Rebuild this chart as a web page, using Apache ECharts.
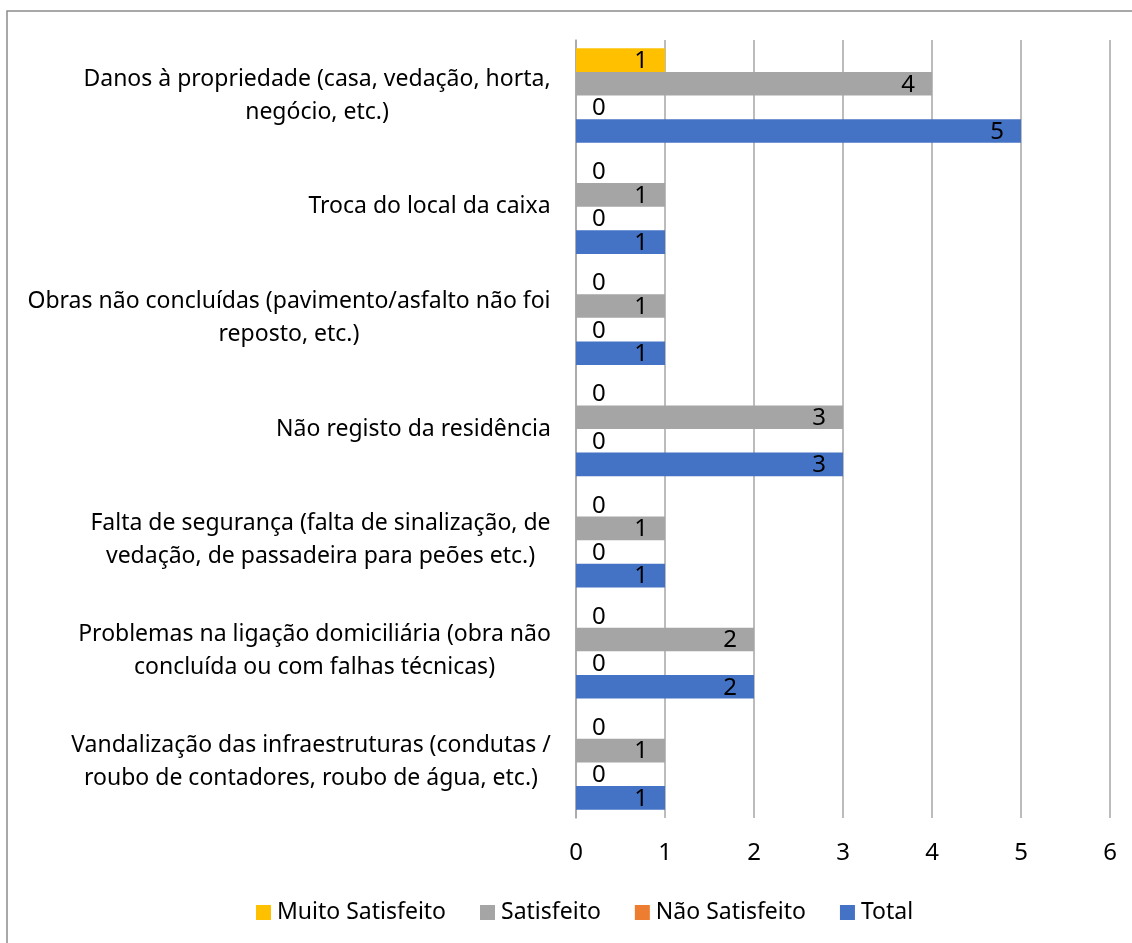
<!DOCTYPE html>
<html>
<head>
<meta charset="utf-8">
<script src="https://cdn.jsdelivr.net/npm/echarts@6/dist/echarts.min.js"></script>
<style>
  html, body { margin: 0; padding: 0; background: #fff; }
  #main { width: 1132px; height: 943px; }
</style>
</head>
<body>
<div id="main"></div>
<script>
const categories = [
    'Danos à propriedade (casa, vedação, horta,\nnegócio, etc.)',
    'Troca do local da caixa',
    'Obras não concluídas (pavimento/asfalto não foi\nreposto, etc.)',
    'Não registo da residência',
    'Falta de segurança (falta de sinalização, de\nvedação, de passadeira para peões etc.)',
    'Problemas na ligação domiciliária (obra não\nconcluída ou com falhas técnicas)',
    'Vandalização das infraestruturas (condutas /\nroubo de contadores, roubo de água, etc.)'
];
const muitoSatisfeito = [1, 0, 0, 0, 0, 0, 0];
const satisfeito = [4, 1, 1, 3, 1, 2, 1];
const naoSatisfeito = [0, 0, 0, 0, 0, 0, 0];
const total = [5, 1, 1, 3, 1, 2, 1];
const xTicks = [0, 1, 2, 3, 4, 5, 6];

const FONT = '"Noto Sans", sans-serif';
const FS = 23;
const NUM_FS = 24;

// measure the longest line of each category so the lines can be centred in the block
const ctx = document.createElement('canvas').getContext('2d');
ctx.font = FS + 'px "Noto Sans"';
const rich = {};
categories.forEach((c, i) => {
    const w = Math.max(...c.split('\n').map(s => ctx.measureText(s).width));
    rich['c' + i] = { width: Math.ceil(w), align: 'center', fontSize: FS, fontFamily: FONT, color: '#000', lineHeight: 33 };
});

function seriesData(arr) {
    return arr.map(v => v === 0
        ? { value: v, label: { position: 'right', distance: 16 } }
        : { value: v });
}

const myChart = echarts.init(document.getElementById('main'), null, { renderer: 'canvas' });
let option;
myChart.setOption(
    (option = {
        animation: false,
        color: ['#FFC000', '#A5A5A5', '#ED7D31', '#4472C4'],
        graphic: [{
            type: 'rect',
            shape: { x: 7, y: 11, width: 1200, height: 1000 },
            style: { fill: 'none', stroke: '#8c8c8c', lineWidth: 1.5 },
            silent: true
        }],
        grid: {
            left: 576,
            right: 22,
            top: 40,
            bottom: 125
        },
        legend: {
            top: 896,
            left: 251,
            itemWidth: 15,
            itemHeight: 15,
            itemGap: 34,
            icon: 'rect',
            textStyle: { fontFamily: FONT, fontSize: FS, color: '#000', padding: [0, 0, 0, 1] },
            data: ['Muito Satisfeito', 'Satisfeito', 'Não Satisfeito', 'Total']
        },
        xAxis: {
            type: 'value',
            min: 0,
            max: 6,
            interval: 1,
            axisLine: { show: false },
            axisTick: { show: false },
            splitLine: { lineStyle: { color: '#a6a6a6', width: 1.5 } },
            axisLabel: {
                fontFamily: FONT, fontSize: NUM_FS, color: '#000', margin: 23,
                formatter: v => xTicks.includes(v) ? String(v) : ''
            }
        },
        yAxis: {
            type: 'category',
            inverse: true,
            data: categories,
            axisLine: { show: true, lineStyle: { color: '#a6a6a6', width: 1.5 } },
            axisTick: { show: false },
            axisLabel: {
                margin: 25,
                align: 'right',
                formatter: (v, i) => v.split('\n').map(s => '{c' + i + '|' + s + '}').join('\n'),
                rich: rich
            }
        },
        series: [
            ['Muito Satisfeito', muitoSatisfeito],
            ['Satisfeito', satisfeito],
            ['Não Satisfeito', naoSatisfeito],
            ['Total', total]
        ].map(([name, arr]) => ({
            name: name,
            type: 'bar',
            barGap: '0%',
            barCategoryGap: '15%',
            data: seriesData(arr),
            label: {
                show: true,
                position: 'insideRight',
                distance: 17,
                offset: [0, 1],
                fontFamily: FONT,
                fontSize: NUM_FS,
                color: '#000'
            }
        }))
    })
);
</script>
</body>
</html>
